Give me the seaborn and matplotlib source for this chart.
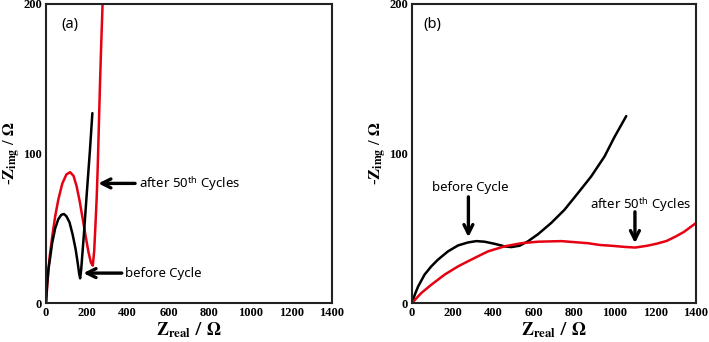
import matplotlib
matplotlib.use("Agg")
import matplotlib.pyplot as plt
import seaborn as sns
import pandas as pd
from matplotlib.ticker import MultipleLocator

# ---------------- data ----------------
a_before_x = [0, 5, 12, 20, 30, 45, 60, 75, 88, 100, 115, 130, 145, 155, 162, 167, 172, 185, 200, 215, 227]
a_before_y = [0, 12, 23, 30, 40, 50, 56, 59, 59.5, 58, 54, 46, 36, 27, 20, 16.5, 22, 45, 74, 102, 127]

a_after_x = [0, 8, 18, 30, 45, 60, 80, 100, 118, 135, 150, 165, 180, 195, 208, 220, 229, 236, 242, 248, 253, 258, 264, 270, 276, 282]
a_after_y = [0, 15, 31, 44, 58, 69, 80, 86, 87.5, 85, 78, 68, 56, 44, 34, 27, 25, 35, 52, 70, 90, 115, 145, 172, 196, 225]

b_before_x = [0, 15, 30, 62, 95, 128, 177, 227, 276, 317, 358, 407, 456, 489, 530, 571, 621, 686, 752, 818, 883, 949, 998, 1056]
b_before_y = [0, 6, 11, 19, 24.5, 29, 34.5, 38.5, 40.5, 41.4, 41, 39.6, 37.9, 37.4, 38.3, 41.2, 46, 53.5, 62.4, 73.5, 84.6, 98, 111, 125]

b_after_x = [0, 46, 95, 161, 227, 292, 374, 456, 539, 621, 736, 867, 927, 982, 1050, 1100, 1160, 1210, 1255, 1300, 1340, 1370, 1400]
b_after_y = [0, 6.7, 12.2, 19, 24.5, 29, 34.5, 37.9, 40, 41, 41.4, 40, 38.8, 38.3, 37.5, 37.1, 38.3, 39.8, 41.5, 44.5, 47.5, 50.5, 53.5]

x_ticks = [0, 200, 400, 600, 800, 1000, 1200, 1400]
y_ticks = [0, 100, 200]
panel_labels = ["(a)", "(b)"]
ann_before = "before Cycle"
ann_after = r"after 50$^{\mathregular{th}}$ Cycles"

# ---------------- style ----------------
sns.set_style("white")
plt.rcParams["font.family"] = ["Noto Sans", "DejaVu Sans"]
plt.rcParams["mathtext.fontset"] = "stix"
plt.rcParams["text.color"] = "black"
plt.rcParams["axes.labelcolor"] = "black"
plt.rcParams["xtick.color"] = "black"
plt.rcParams["ytick.color"] = "black"

BLACK = "#000000"
RED = "#e60012"

fig = plt.figure(figsize=(7.09, 3.42), dpi=100)
ax1 = fig.add_axes([46 / 709, 39 / 342, 286 / 709, 299 / 342])
ax2 = fig.add_axes([412 / 709, 39 / 342, 284 / 709, 299 / 342])

dfs = [
    (ax1, pd.DataFrame({"x": a_before_x, "y": a_before_y}), pd.DataFrame({"x": a_after_x, "y": a_after_y})),
    (ax2, pd.DataFrame({"x": b_before_x, "y": b_before_y}), pd.DataFrame({"x": b_after_x, "y": b_after_y})),
]

for i, (ax, dfb, dfa) in enumerate(dfs):
    if i == 0:
        sns.lineplot(data=dfa, x="x", y="y", ax=ax, color=RED, lw=1.8, sort=False, estimator=None)
        sns.lineplot(data=dfb, x="x", y="y", ax=ax, color=BLACK, lw=1.8, sort=False, estimator=None)
    else:
        sns.lineplot(data=dfb, x="x", y="y", ax=ax, color=BLACK, lw=1.8, sort=False, estimator=None)
        sns.lineplot(data=dfa, x="x", y="y", ax=ax, color=RED, lw=1.8, sort=False, estimator=None)
    ax.set_xlim(0, 1400)
    ax.set_ylim(0, 200)
    ax.set_xticks(x_ticks)
    ax.set_yticks(y_ticks)
    ax.xaxis.set_minor_locator(MultipleLocator(100))
    ax.yaxis.set_minor_locator(MultipleLocator(50))
    ax.tick_params(which="major", direction="in", length=5, width=1.0, color="#222222", pad=3)
    ax.tick_params(which="minor", direction="in", length=4, width=1.0, color="#222222")
    for lab in ax.get_xticklabels() + ax.get_yticklabels():
        lab.set_fontfamily("Liberation Serif")
        lab.set_fontweight("bold")
        lab.set_fontsize(9)
        lab.set_color("black")
    for s in ax.spines.values():
        s.set_linewidth(1.5)
        s.set_color("#222222")
    ax.set_xlabel(r"$\mathbf{Z_{real}}$ / $\mathbf{\Omega}$", fontsize=13, labelpad=1, color="black")
    ax.set_ylabel(r"-$\mathbf{Z_{img}}$ / $\mathbf{\Omega}$", fontsize=12, labelpad=0,
                  fontweight="bold", family="Liberation Serif", color="black")

ax1.text(118, 186, panel_labels[0], fontsize=10.5, ha="center", va="center", color="black")
ax2.text(102, 186, panel_labels[1], fontsize=10.5, ha="center", va="center", color="black")

arrow = dict(arrowstyle="->", lw=2.4, color="black", mutation_scale=16, shrinkA=0, shrinkB=0)
fs = 9.5

# panel (a) annotations
ax1.annotate("", xy=(256, 80), xytext=(436, 80), arrowprops=arrow)
ax1.text(457, 80, ann_after, fontsize=fs, ha="left", va="center", color="black")
ax1.annotate("", xy=(183, 20), xytext=(371, 20), arrowprops=arrow)
ax1.text(387, 20, ann_before, fontsize=fs, ha="left", va="center", color="black")

# panel (b) annotations
ax2.annotate("", xy=(278, 44), xytext=(278, 71), arrowprops=arrow)
ax2.text(287, 77, ann_before, fontsize=fs, ha="center", va="center", color="black")
ax2.annotate("", xy=(1099, 40), xytext=(1099, 61), arrowprops=arrow)
ax2.text(1126, 66, ann_after, fontsize=fs, ha="center", va="center", color="black")

fig.savefig("out.png", dpi=100)
